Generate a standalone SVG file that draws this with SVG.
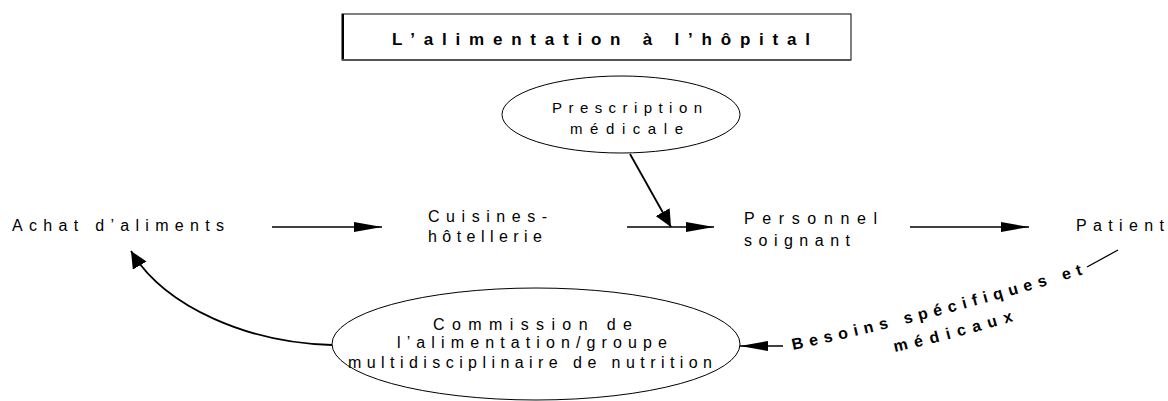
<svg xmlns="http://www.w3.org/2000/svg" width="1168" height="401" viewBox="0 0 1168 401">
<style>
.lbl{font-family:"Liberation Sans",Arial,sans-serif;font-size:16px;fill:#000}
.sm{font-size:15px}
.ttl{font-family:"Liberation Sans",Arial,sans-serif;font-size:17px;font-weight:bold;fill:#000}
.bes{font-family:"Liberation Sans",Arial,sans-serif;font-size:16px;font-weight:bold;fill:#000}
.shape{fill:#fff;stroke:#000;stroke-width:1}
.conn{fill:none;stroke:#000;stroke-width:1.3}
.thick{stroke-width:1.8}
</style>
<defs>
<marker id="arrL" markerUnits="userSpaceOnUse" markerWidth="30" markerHeight="12" refX="28" refY="5" orient="auto">
<path d="M0,0 L28,5 L0,10 z" fill="#000"/>
</marker>
<marker id="arrS" markerUnits="userSpaceOnUse" markerWidth="20" markerHeight="18" refX="17" refY="8" orient="auto">
<path d="M0,0 L17,8 L0,16 z" fill="#000"/>
</marker>
<path id="besP1" d="M 793 350 Q 950 316 1094 271"/>
<path id="besP2" d="M 895 352 Q 959 338 1029 316"/>
</defs>
<rect width="1168" height="401" fill="#fff"/>
<g id="title">
<rect class="shape" x="342" y="14" width="509" height="46"/>
<path d="M343 14 V60" stroke="#000" stroke-width="2"/>
<path d="M342 60 H851" stroke="#555" stroke-width="2"/>
<text class="ttl" x="392" y="45" textLength="418" lengthAdjust="spacing">L’alimentation à l’hôpital</text>
</g>
<g id="prescription">
<ellipse class="shape" cx="621" cy="114.5" rx="119" ry="38.5"/>
<text class="lbl sm" x="552" y="113" textLength="150" lengthAdjust="spacing">Prescription</text>
<text class="lbl sm" x="570" y="134" textLength="113" lengthAdjust="spacing">médicale</text>
</g>
<g id="achat">
<text class="lbl" x="12" y="231" textLength="212" lengthAdjust="spacing">Achat d’aliments</text>
</g>
<g id="cuisines">
<text class="lbl" x="428" y="222" textLength="119" lengthAdjust="spacing">Cuisines-</text>
<text class="lbl" x="428" y="242" textLength="114" lengthAdjust="spacing">hôtellerie</text>
</g>
<g id="personnel">
<text class="lbl" x="744" y="224" textLength="133" lengthAdjust="spacing">Personnel</text>
<text class="lbl" x="744" y="246" textLength="106" lengthAdjust="spacing">soignant</text>
</g>
<g id="patient">
<text class="lbl" x="1076" y="231" textLength="88" lengthAdjust="spacing">Patient</text>
</g>
<g id="commission">
<ellipse class="shape" cx="536" cy="344" rx="204" ry="56"/>
<text class="lbl" x="433" y="330" textLength="199" lengthAdjust="spacing">Commission de</text>
<text class="lbl" x="397" y="348" textLength="270" lengthAdjust="spacing">l’alimentation/groupe</text>
<text class="lbl" x="348" y="368" textLength="364" lengthAdjust="spacing">multidisciplinaire de nutrition</text>
</g>
<g id="connectors">
<line class="conn" x1="272" y1="227" x2="382" y2="227" marker-end="url(#arrL)"/>
<line class="conn" x1="627" y1="227" x2="714" y2="227" marker-end="url(#arrL)"/>
<line class="conn" x1="910" y1="227" x2="1029" y2="227" marker-end="url(#arrL)"/>
<line class="conn thick" x1="630" y1="154" x2="671" y2="227" marker-end="url(#arrS)"/>
<path class="conn thick" d="M 332 345 C 250 343, 165 308, 131 251" marker-end="url(#arrS)"/>
<line class="conn" x1="1118" y1="250" x2="1087" y2="267"/>
<line class="conn" x1="783" y1="346" x2="740" y2="346" marker-end="url(#arrL)"/>
<text class="bes" letter-spacing="6"><textPath href="#besP1">Besoins spécifiques et</textPath></text>
<text class="bes" letter-spacing="7"><textPath href="#besP2">médicaux</textPath></text>
</g>
</svg>
